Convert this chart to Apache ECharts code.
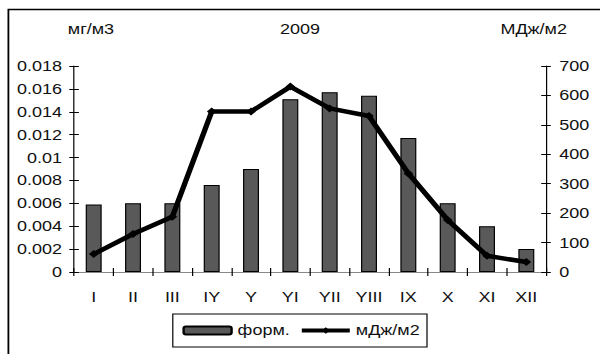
<!DOCTYPE html>
<html><head><meta charset="utf-8">
<script src="https://cdn.jsdelivr.net/npm/echarts@6/dist/echarts.min.js"></script>
<style>html,body{margin:0;padding:0;background:#fff;overflow:hidden}#c{width:500px;height:354px;transform:scaleX(1.2);transform-origin:0 0}</style>
</head><body><div id="c"></div>
<script>
const categories = ['I','II','III','IY','Y','YI','YII','YIII','IX','X','XI','XII'];
const formValues = [0.0059,0.0060,0.0060,0.0076,0.0090,0.0151,0.0157,0.0154,0.0117,0.0060,0.0040,0.0020];
const radValues = [61,129,188,545,545,630,556,530,335,177,55,34];
const leftTicks = {min:0,max:0.018,interval:0.002};
const rightTicks = {min:0,max:700,interval:100};

const F = 'Liberation Sans, Arial, sans-serif';
const FS = 15;
const TC = '#111';
const chart = echarts.init(document.getElementById('c'), null, {renderer:'svg'});
chart.setOption({
  animation:false,
  backgroundColor:'#fff',
  textStyle:{fontFamily:F,color:TC},
  title:[
    {text:'2009',left:'center',top:22,padding:0,textStyle:{fontFamily:F,fontSize:FS,fontWeight:'normal',color:TC}},
    {text:'мг/м3',left:56.5,top:22,padding:0,textStyle:{fontFamily:F,fontSize:FS,fontWeight:'normal',color:TC}},
    {text:'МДж/м2',left:417,top:22,padding:0,textStyle:{fontFamily:F,fontSize:FS,fontWeight:'normal',color:TC}}
  ],
  graphic:[
    {type:'polyline',shape:{points:[[7,354],[7,9.5],[500,9.5]]},style:{stroke:'#000',lineWidth:1.5,fill:null}}
  ],
  legend:{
    left:144,top:314,
    padding:[9,6,9,8],itemGap:8,
    borderColor:'#000',borderWidth:1,
    itemWidth:40,itemHeight:8,
    textStyle:{fontFamily:F,fontSize:FS,color:TC},
    data:[{name:'форм.'},{name:'мДж/м2',lineStyle:{width:4,color:'#000'}}]
  },
  grid:{left:61.7,right:45,top:66,bottom:82},
  xAxis:[
    {type:'category',data:categories,boundaryGap:true,position:'bottom',
     axisLine:{lineStyle:{color:'#000',width:1}},
     axisTick:{show:true,length:4,lineStyle:{color:'#000'}},
     axisLabel:{color:TC,fontSize:FS,fontFamily:F,margin:18}},
    {type:'category',data:categories,boundaryGap:true,position:'bottom',
     axisLine:{show:false},
     axisTick:{show:true,inside:true,length:4,lineStyle:{color:'#000'}},
     axisLabel:{show:false}},
    {type:'category',data:categories,position:'top',
     axisLine:{lineStyle:{color:'#888',width:1}},axisTick:{show:false},axisLabel:{show:false}}
  ],
  yAxis:[
    {type:'value',min:leftTicks.min,max:leftTicks.max,interval:leftTicks.interval,position:'left',
     axisLine:{show:true,lineStyle:{color:'#000'}},
     axisTick:{show:true,length:4,lineStyle:{color:'#000'}},
     splitLine:{show:false},
     axisLabel:{color:TC,fontSize:FS,fontFamily:F,margin:10,formatter:v=>String(+v.toFixed(3))}},
    {type:'value',min:rightTicks.min,max:rightTicks.max,interval:rightTicks.interval,position:'right',
     axisLine:{show:true,lineStyle:{color:'#000'}},
     axisTick:{show:true,length:4,lineStyle:{color:'#000'}},
     splitLine:{show:false},
     axisLabel:{color:TC,fontSize:FS,fontFamily:F,margin:11}},
    {type:'value',min:leftTicks.min,max:leftTicks.max,interval:leftTicks.interval,position:'left',
     axisLine:{show:false},axisTick:{show:true,inside:true,length:4,lineStyle:{color:'#000'}},
     axisLabel:{show:false},splitLine:{show:false}},
    {type:'value',min:rightTicks.min,max:rightTicks.max,interval:rightTicks.interval,position:'right',
     axisLine:{show:false},axisTick:{show:true,inside:true,length:4,lineStyle:{color:'#000'}},
     axisLabel:{show:false},splitLine:{show:false}}
  ],
  series:[
    {name:'форм.',type:'bar',data:formValues,xAxisIndex:0,yAxisIndex:0,barWidth:13.3,
     itemStyle:{color:'#595959',borderColor:'#000',borderWidth:1}},
    {name:'мДж/м2',type:'line',data:radValues,xAxisIndex:0,yAxisIndex:1,
     symbol:'diamond',symbolSize:8,showSymbol:true,
     lineStyle:{color:'#000',width:4.5},itemStyle:{color:'#000'}}
  ]
});
</script></body></html>
